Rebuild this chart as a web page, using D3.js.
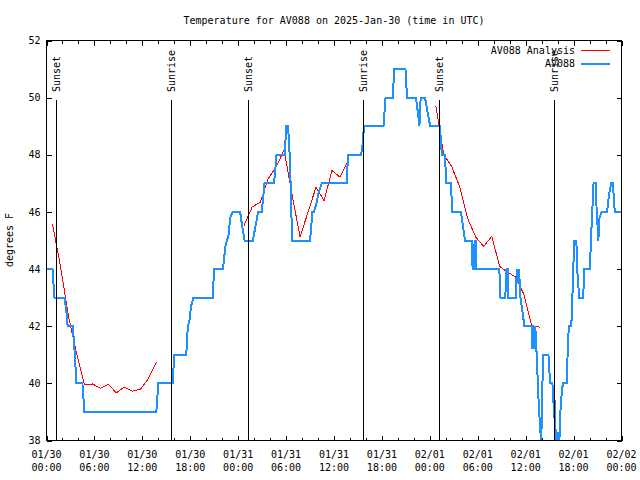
<!DOCTYPE html>
<html><head><meta charset="utf-8">
<script src="https://cdn.jsdelivr.net/npm/d3@7"></script>
<style>
body{margin:0;background:#fff;}
svg{display:block;background:#fff;}
text{font-family:"DejaVu Sans Mono",monospace;font-size:10px;fill:#000;}
</style></head><body>
<svg id="chart" width="640" height="480"></svg>
<script>
const titleText = "Temperature for AV088 on 2025-Jan-30 (time in UTC)";
const yAxisLabel = "degrees F";
const seriesNames = ["AV088 Analysis", "AV088"];
const seriesColors = ["#ff0000", "#1e90ff"];
const yTickValues = [38, 40, 42, 44, 46, 48, 50, 52];
const startMs = Date.UTC(2025, 0, 30);
const spanHours = 72;

// observations: hours since 01/30 00:00 UTC, temperature F
const obsHours = [0,0.75,1.0,2.25,2.5,2.65,3.3,3.5,3.75,4.5,4.75,13.75,14.0,15.8,16.0,17.5,17.7,17.9,18.1,18.4,20.8,21.0,22.1,22.25,22.4,22.6,22.8,23.0,23.3,24.25,24.5,24.8,25.85,26.1,26.5,26.95,27.3,28.5,28.8,29.85,30.0,30.25,30.45,30.6,30.75,33.0,33.3,33.5,33.8,34.1,34.45,37.6,37.75,39.4,39.6,39.75,42.2,42.45,43.35,43.55,44.95,45.15,46.25,46.5,46.7,46.85,47.4,47.7,48.05,49.25,49.4,49.5,49.9,50.05,50.65,50.8,51.9,52.15,52.4,53.3,53.35,53.55,53.6,53.75,53.8,56.7,56.85,57.45,57.6,57.75,57.85,58.75,58.9,59.0,59.1,59.2,59.35,59.6,59.85,60.8,60.85,60.95,61.1,61.2,61.3,61.45,61.6,61.8,61.95,62.1,62.2,62.85,62.95,63.1,63.35,63.45,63.55,63.6,63.75,63.9,64.05,64.2,64.35,64.55,64.7,65.15,65.25,65.4,65.7,65.8,65.9,66.0,66.1,66.35,66.45,66.7,67.2,67.35,68.0,68.1,68.2,68.3,68.4,68.5,68.75,68.85,68.95,69.1,69.25,69.5,70.2,70.35,70.5,70.7,70.95,71.05,71.2,72];
const obsTemps = [44,44,43,43,42.5,42,42,41.2,40,40,39,39,40,40,41,41,42,42.2,42.7,43,43,44,44,44.4,44.8,45,45.2,45.8,46,46,45.5,45,45,45.4,46,46,47,47,48,48,49,49,48,46.7,45,45,46,46,46.3,46.7,47,47,48,48,48.4,49,49,50,50,51,51,50,50,49.5,49,50,50,49.5,49,49,48.5,48,48,47,47,46,46,45.5,45,45,44,44,45,45,44,44,43,43,44,44,43,43,44,43.5,44,43.8,43,42.5,42,42,41.2,42,41.2,42,41.5,40.5,39.5,38.5,37.9,40,41,41,40.5,40,40,39.6,38.8,39.5,38.3,37.8,38.3,37.8,39,39.8,40,40,41,42,42,42.5,43.5,44.3,45,45,44,43,43,44,44,44.5,45,46,46.3,47,47,46.3,45.8,45,45.8,46,46,46.4,46.7,47,47,46.3,46,46];

// analysis: three runs of hourly values
const anaStartHours = [0.75, 24.75, 48.75];
const anaTemps1 = [45.58,44.1,42.35,41.07,39.95,39.98,39.83,39.96,39.67,39.87,39.73,39.79,40.16,40.74];
const anaTemps2 = [45.53,46.17,46.34,47.16,47.57,48.17,46.6,45.13,45.99,46.87,46.4,47.45,47.22,47.77];
const anaTemps3 = [49.72,48.0,47.58,46.87,45.76,45.12,44.79,45.15,44.09,43.89,43.72,43.13,42.02,41.97];

const sunNames = ["Sunset","Sunrise","Sunset","Sunrise","Sunset","Sunrise"];
const sunHours = [1.17, 15.6, 25.19, 39.6, 49.21, 63.5];

const L = 46.5, R = 621.5, T = 40.5, B = 440.5;
const toDate = h => new Date(startMs + h * 3600e3);

const svg = d3.select("#chart");
const x = d3.scaleUtc().domain([toDate(0), toDate(spanHours)]).range([L, R]);
const y = d3.scaleLinear().domain([38, 52]).range([B, T]);

svg.append("defs").append("clipPath").attr("id","plotclip")
  .append("rect").attr("x", L).attr("y", T).attr("width", R - L).attr("height", B - T);

// title
svg.append("text").attr("x", (L + R) / 2).attr("y", 23.5).attr("text-anchor","middle").text(titleText);
// y label
svg.append("text").attr("transform","translate(13,240) rotate(-90)").attr("text-anchor","middle").text(yAxisLabel);

const noDomain = g => g.select(".domain").remove();
const crisp = g => g.selectAll("line").attr("shape-rendering","crispEdges").attr("stroke","#000");

// x minor ticks (2h) bottom & top
svg.append("g").attr("transform",`translate(0,${B})`)
  .call(d3.axisBottom(x).ticks(d3.utcHour.every(2)).tickSizeInner(-3).tickSizeOuter(0).tickFormat(""))
  .call(noDomain).call(crisp);
svg.append("g").attr("transform",`translate(0,${T})`)
  .call(d3.axisBottom(x).ticks(d3.utcHour.every(2)).tickSizeInner(3).tickSizeOuter(0).tickFormat(""))
  .call(noDomain).call(crisp);
// x major ticks (6h)
svg.append("g").attr("transform",`translate(0,${B})`)
  .call(d3.axisBottom(x).ticks(d3.utcHour.every(6)).tickSizeInner(-5).tickSizeOuter(0).tickFormat(""))
  .call(noDomain).call(crisp);
svg.append("g").attr("transform",`translate(0,${T})`)
  .call(d3.axisBottom(x).ticks(d3.utcHour.every(6)).tickSizeInner(5).tickSizeOuter(0).tickFormat(""))
  .call(noDomain).call(crisp);
// x labels (two lines)
const fmtDay = d3.utcFormat("%m/%d"), fmtTime = d3.utcFormat("%H:%M");
const xl = svg.append("g").selectAll("text").data(x.ticks(d3.utcHour.every(6))).join("text")
  .attr("text-anchor","middle");
xl.append("tspan").attr("x", d => x(d)).attr("y", 457.5).text(d => fmtDay(d));
xl.append("tspan").attr("x", d => x(d)).attr("y", 471).text(d => fmtTime(d));

// y axes
svg.append("g").attr("transform",`translate(${L},0)`)
  .call(d3.axisLeft(y).tickValues(yTickValues).tickSizeInner(-5).tickSizeOuter(0).tickPadding(6).tickFormat(d3.format("d")))
  .call(noDomain).call(crisp)
  .call(g => g.selectAll("text").attr("font-family","DejaVu Sans Mono").attr("font-size",10).attr("fill","#000"));
svg.append("g").attr("transform",`translate(${R},0)`)
  .call(d3.axisRight(y).tickValues(yTickValues).tickSizeInner(-5).tickSizeOuter(0).tickFormat(""))
  .call(noDomain).call(crisp);

// data
const plot = svg.append("g").attr("clip-path","url(#plotclip)");
const line = d3.line().x(d => x(d[0])).y(d => y(d[1]));
[anaTemps1, anaTemps2, anaTemps3].forEach((arr, k) => {
  const pts = arr.map((v, i) => [toDate(anaStartHours[k] + i), v]);
  plot.append("path").datum(pts).attr("d", line).attr("fill","none")
    .attr("stroke", seriesColors[0]).attr("stroke-width", 1).attr("shape-rendering","crispEdges");
});
const obsPts = obsHours.map((h, i) => [toDate(h), obsTemps[i]]);
plot.append("path").datum(obsPts).attr("d", line).attr("fill","none")
  .attr("stroke", seriesColors[1]).attr("stroke-width", 2).attr("stroke-linejoin","miter").attr("shape-rendering","crispEdges");

// sun events
const sunG = svg.append("g");
sunHours.forEach((h, i) => {
  const sx = Math.round(x(toDate(h))) + 0.5;
  sunG.append("line").attr("x1", sx).attr("x2", sx).attr("y1", 99.5).attr("y2", B)
    .attr("stroke","#000").attr("stroke-width",1).attr("shape-rendering","crispEdges");
  sunG.append("text").attr("transform",`translate(${sx},92) rotate(-90)`).attr("dy","0.36em")
    .attr("text-anchor","start").text(sunNames[i]);
});

// frame
svg.append("rect").attr("x", L).attr("y", T).attr("width", R - L).attr("height", B - T)
  .attr("fill","none").attr("stroke","#000").attr("stroke-width",1).attr("shape-rendering","crispEdges");

// legend
const leg = svg.append("g");
seriesNames.forEach((n, i) => {
  const ly = 50.5 + i * 13;
  leg.append("text").attr("x", 575).attr("y", ly + 3.6).attr("text-anchor","end").text(n);
  leg.append("line").attr("x1", 581).attr("x2", 610).attr("y1", ly).attr("y2", ly)
    .attr("stroke", seriesColors[i]).attr("stroke-width", i === 1 ? 2 : 1).attr("shape-rendering","crispEdges");
});
</script>
</body></html>
